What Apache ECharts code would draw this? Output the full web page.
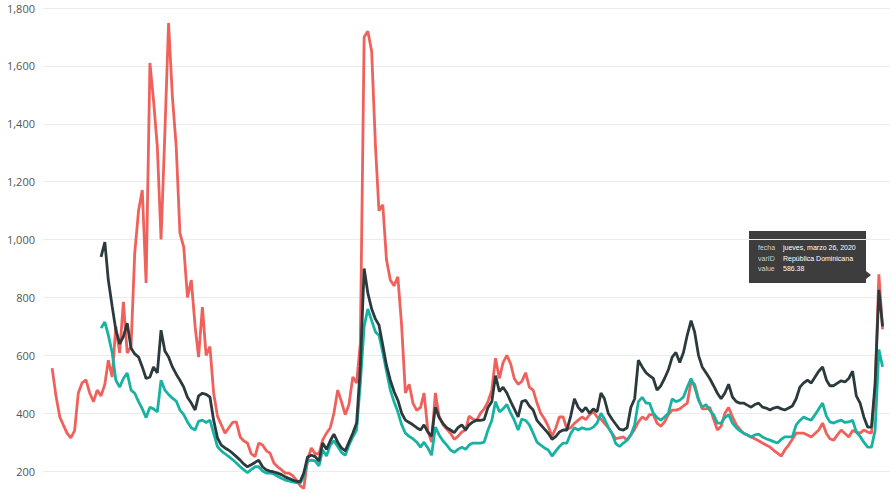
<!DOCTYPE html>
<html>
<head>
<meta charset="utf-8">
<script src="https://cdn.jsdelivr.net/npm/echarts@6/dist/echarts.min.js"></script>
<style>
  html, body { margin: 0; padding: 0; background: #fff; }
  #chart { width: 896px; height: 504px; }
</style>
</head>
<body>
<div id="chart"></div>
<script>
// meses desde oct-2001 hasta may-2020
var dates = [];
for (var y = 2001, m = 10; y < 2020 || (y === 2020 && m <= 5); m++) {
  if (m > 12) { m = 1; y++; }
  if (y === 2020 && m > 5) break;
  dates.push(y + '-' + (m < 10 ? '0' + m : m) + '-01');
}

var yTicks = [200, 400, 600, 800, 1000, 1200, 1400, 1600, 1800];

// República Dominicana
var rd = [null, null,
  556, 460, 387, 360, 331, 315, 340, 470, 505, 515, 470, 440, 480,
  460, 500, 583, 525, 700, 608, 785, 608, 630, 953, 1100, 1171, 850,
  1610, 1482, 1320, 1000, 1368, 1748, 1493, 1320, 1022, 974, 800, 860, 700,
  594, 767, 600, 630, 470, 390, 360, 331, 350, 368, 370, 318, 305, 297,
  260, 250, 297, 290, 270, 262, 228, 215, 205, 193, 193, 185, 170, 150,
  140, 240, 280, 260, 260, 307, 331, 350, 400, 480, 440, 395, 430, 525,
  504, 640, 1700, 1720, 1650, 1320, 1100, 1120, 930, 860, 840, 871, 700,
  470, 500, 435, 410, 420, 470, 340, 300, 470, 390, 360, 345, 331, 310,
  320, 335, 342, 390, 380, 375, 400, 415, 440, 480, 590, 520, 575, 600,
  570, 520, 500, 510, 540, 490, 480, 435, 400, 380, 355, 320, 350, 387,
  387, 345, 350, 365, 376, 387, 378, 395, 405, 387, 380, 365, 350, 331,
  312, 315, 318, 307, 325, 345, 370, 387, 378, 395, 395, 366, 355, 370,
  395, 411, 411, 415, 425, 435, 510, 500, 450, 415, 415, 421, 380, 342,
  355, 400, 420, 387, 360, 345, 331, 325, 318, 312, 305, 297, 290, 283,
  272, 262, 252, 273, 290, 310, 331, 331, 331, 325, 318, 330, 342, 366,
  330, 312, 307, 325, 342, 330, 318, 340, 335, 331, 342, 335, 331, 480,
  880, 690];

// Latinoamérica
var latam = [null, null, null, null, null, null, null, null, null, null,
  null, null, null, null, null,
  940, 991, 860, 770, 687, 640, 665, 711, 625, 605, 594, 560, 520,
  525, 560, 539, 687, 615, 594, 560, 535, 514, 490, 455, 435, 411,
  460, 469, 465, 456, 376, 315, 290, 280, 272, 262, 250, 238, 225, 215,
  222, 230, 238, 215, 204, 200, 197, 193, 188, 180, 175, 169, 165, 163,
  193, 249, 255, 250, 235, 297, 275, 305, 328, 300, 280, 270, 300, 331,
  366, 560, 900, 815, 760, 725, 705, 635, 565, 514, 475, 445, 400,
  376, 368, 360, 350, 342, 360, 335, 320, 421, 385, 365, 350, 342, 333,
  350, 360, 342, 360, 370, 376, 375, 378, 420, 440, 530, 475, 490, 470,
  440, 415, 387, 440, 445, 425, 411, 375, 360, 345, 331, 310, 320, 335,
  342, 342, 390, 450, 420, 405, 420, 400, 415, 405, 470, 450, 400, 380,
  362, 345, 342, 350, 420, 450, 583, 560, 540, 530, 520, 480, 495, 520,
  550, 594, 610, 575, 610, 670, 720, 680, 600, 560, 540, 520, 495, 469,
  450, 470, 500, 456, 440, 435, 435, 428, 421, 430, 435, 421, 418, 411,
  418, 421, 415, 411, 418, 425, 450, 490, 505, 514, 504, 525, 545, 560,
  515, 495, 495, 504, 512, 508, 520, 545, 460, 435, 387, 352, 352, 500,
  826, 700];

// Emergentes
var emerg = [null, null, null, null, null, null, null, null, null, null,
  null, null, null, null, null,
  694, 715, 670, 610, 514, 490, 520, 539, 480, 469, 440, 415, 385,
  421, 415, 405, 514, 480, 465, 452, 442, 411, 395, 370, 350, 342,
  372, 376, 368, 376, 331, 285, 270, 260, 250, 240, 228, 215, 205, 195,
  205, 215, 215, 200, 193, 193, 190, 182, 175, 169, 166, 163, 160, 158,
  180, 235, 238, 235, 218, 273, 252, 290, 305, 285, 265, 255, 290, 318,
  342, 504, 700, 760, 720, 680, 670, 610, 545, 480, 440, 405, 360,
  331, 320, 312, 300, 283, 300, 280, 255, 352, 325, 305, 290, 273, 265,
  275, 283, 275, 290, 297, 297, 297, 300, 342, 375, 440, 405, 415, 430,
  400, 376, 342, 380, 375, 360, 331, 300, 290, 280, 273, 252, 270, 285,
  297, 297, 330, 350, 342, 350, 345, 345, 352, 366, 400, 380, 352, 331,
  295, 285, 297, 307, 325, 360, 440, 455, 435, 435, 400, 385, 376, 387,
  400, 450, 440, 445, 456, 490, 520, 490, 445, 421, 430, 410, 395, 366,
  366, 385, 395, 366, 350, 340, 331, 325, 318, 325, 328, 318, 312, 307,
  302, 297, 310, 318, 318, 318, 360, 375, 387, 380, 376, 395, 415, 435,
  390, 370, 366, 372, 376, 368, 370, 376, 335, 320, 300, 283, 283, 340,
  620, 560];

function pairs(vals) {
  return dates.map(function (d, i) { return [d, vals[i]]; });
}

var chart = echarts.init(document.getElementById('chart'), null, { renderer: 'svg' });

function tipText(x, y, text, isValue) {
  return {
    type: 'text', x: x, y: y,
    style: {
      text: text,
      fill: isValue ? '#ffffff' : '#cfcfcf',
      fontFamily: 'Liberation Sans',
      fontSize: 7,
      fontWeight: 'normal'
    }
  };
}

var option = {
  animation: false,
  backgroundColor: '#fff',
  // la escala va de 0 a 1800; el 0 queda por debajo del borde de la imagen
  grid: { left: 43, right: 6, top: 8, height: 521, outerBoundsMode: 'none' },
  xAxis: {
    type: 'time',
    min: '2001-09-18',
    max: '2020-06-30',
    axisLine: { show: false },
    axisTick: { show: false },
    axisLabel: { show: false },
    splitLine: { show: false }
  },
  yAxis: {
    type: 'value',
    min: 0,
    max: 1800,
    interval: 200,
    axisLine: { show: false },
    axisTick: { show: false },
    axisLabel: {
      margin: 8,
      color: '#555',
      fontFamily: 'Open Sans',
      fontSize: 11,
      formatter: function (v) {
        return yTicks.indexOf(v) >= 0 ? v.toLocaleString('en-US') : '';
      }
    },
    splitLine: {
      lineStyle: { color: '#ececec', width: 1 }
    }
  },
  series: [
    {
      name: 'República Dominicana',
      type: 'line',
      data: pairs(rd),
      showSymbol: false,
      color: '#f0615c',
      lineStyle: { width: 2.8 }
    },
    {
      name: 'Emergentes',
      type: 'line',
      data: pairs(emerg),
      showSymbol: false,
      color: '#17b2a2',
      lineStyle: { width: 2.8 }
    },
    {
      name: 'Latinoamérica',
      type: 'line',
      data: pairs(latam),
      showSymbol: false,
      color: '#2b3a3d',
      lineStyle: { width: 2.8 }
    }
  ],
  graphic: [
    {
      type: 'group',
      left: 749,
      top: 231,
      children: [
        {
          type: 'rect',
          shape: { x: 0, y: 0, width: 117, height: 52 },
          style: { fill: 'rgba(51,51,51,0.95)' }
        },
        {
          type: 'polygon',
          shape: { points: [[117, 40], [122, 44], [117, 48]] },
          style: { fill: 'rgba(51,51,51,0.95)' }
        },
        tipText(9, 13, 'fecha', false),
        tipText(9, 24, 'varID', false),
        tipText(9, 34, 'value', false),
        tipText(34, 13, 'jueves, marzo 26, 2020', true),
        tipText(34, 24, 'República Dominicana', true),
        tipText(34, 34, '586.38', true)
      ]
    }
  ]
};

chart.setOption(option);
</script>
</body>
</html>
